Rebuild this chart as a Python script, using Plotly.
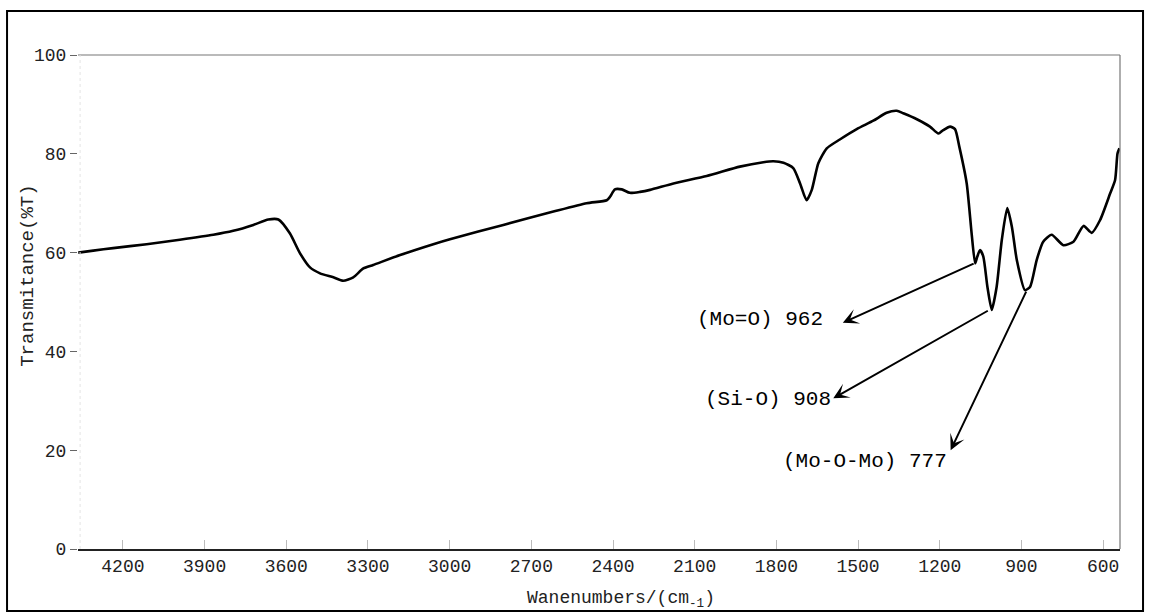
import plotly.graph_objects as go

# FTIR spectrum: wavenumber (cm-1) vs transmittance (%T)
wavenumber = [4364, 4309, 4236, 4113, 3991, 3868, 3795, 3721, 3666, 3629, 3587,
              3550, 3513, 3476, 3427, 3391, 3354, 3317, 3281, 3182, 3060, 2999,
              2803, 2619, 2497, 2423, 2411, 2393, 2368, 2338, 2301, 2264, 2178,
              2056, 1934, 1848, 1811, 1774, 1738, 1713, 1689, 1670, 1646, 1615,
              1567, 1505, 1444, 1395, 1358, 1334, 1284, 1236, 1205, 1187, 1162,
              1144, 1128, 1101, 1083, 1070, 1062, 1052, 1040, 1025, 1009, 991,
              972, 952, 935, 917, 887, 868, 844, 820, 789, 746, 709, 672, 642,
              611, 574, 556, 547, 540]
transmittance = [60.0, 60.4, 60.9, 61.7, 62.6, 63.6, 64.4, 65.6, 66.7, 66.7, 63.9,
                 59.9, 57.0, 55.8, 55.0, 54.3, 55.0, 56.8, 57.5, 59.5, 61.7, 62.7,
                 65.6, 68.3, 70.0, 70.6, 71.3, 72.8, 72.8, 72.1, 72.3, 72.7, 74.0,
                 75.5, 77.4, 78.3, 78.5, 78.2, 77.1, 74.0, 70.6, 72.7, 78.1, 81.1,
                 82.9, 85.0, 86.7, 88.3, 88.7, 88.2, 87.0, 85.5, 84.1, 84.8, 85.5,
                 85.0, 81.4, 74.0, 63.9, 57.8, 59.2, 60.5, 59.2, 53.1, 48.4, 53.1,
                 62.6, 69.0, 65.2, 58.5, 52.4, 53.1, 58.5, 62.2, 63.6, 61.5, 62.2,
                 65.4, 64.0, 66.6, 72.0, 74.7, 80.1, 81.1]

# Band assignments: label text, text position, arrow start on the curve, arrow tip
band_labels = ["(Mo=O) 962", "(Si-O) 908", "(Mo-O-Mo) 777"]
band_text_wn = [1860, 1832, 1474]
band_text_t = [46.4, 30.2, 17.7]
band_curve_wn = [1070, 1018, 880]
band_curve_t = [57.9, 48.4, 52.4]
band_tip_wn = [1556, 1591, 1160]
band_tip_t = [45.8, 30.5, 20.0]

x_ticks = [4200, 3900, 3600, 3300, 3000, 2700, 2400, 2100, 1800, 1500, 1200, 900, 600]
y_ticks = [0, 20, 40, 60, 80, 100]

FONT = "Liberation Mono, Courier New, monospace"

fig = go.Figure()
fig.add_trace(go.Scatter(
    x=wavenumber, y=transmittance, mode="lines",
    line=dict(color="black", width=2.6, shape="spline", smoothing=0.6),
    hoverinfo="skip", showlegend=False,
))

annotations = []
for lab, tx, ty, cx, cy, hx, hy in zip(band_labels, band_text_wn, band_text_t,
                                        band_curve_wn, band_curve_t,
                                        band_tip_wn, band_tip_t):
    annotations.append(dict(
        x=hx, y=hy, ax=cx, ay=cy, xref="x", yref="y", axref="x", ayref="y",
        text="", showarrow=True, arrowhead=3, arrowsize=1.3, arrowwidth=2,
        arrowcolor="black",
    ))
    annotations.append(dict(
        x=tx, y=ty, xref="x", yref="y", text=lab, showarrow=False,
        font=dict(family=FONT, size=21, color="black"),
        xanchor="center", yanchor="middle",
    ))

# axis titles
annotations.append(dict(
    x=-0.048, y=55.3, xref="paper", yref="y", text="Transmitance(%T)",
    textangle=-90, showarrow=False, xanchor="center", yanchor="middle",
    font=dict(family=FONT, size=19, color="#222"),
))
annotations.append(dict(
    x=2370, y=-0.103, xref="x", yref="paper", text="Wanenumbers/(cm<sub>-1</sub>)",
    showarrow=False, xanchor="center", yanchor="middle",
    font=dict(family=FONT, size=18, color="#222"),
))

shapes = [
    # outer frame
    dict(type="rect", xref="paper", yref="paper", x0=-0.0681, x1=1.0221,
         y0=-0.1255, y1=1.0891, line=dict(color="black", width=2)),
    # top and right plot borders
    dict(type="line", xref="paper", yref="paper", x0=0, x1=1, y0=1, y1=1,
         line=dict(color="#777", width=1.2)),
    dict(type="line", xref="paper", yref="paper", x0=1, x1=1, y0=0, y1=1,
         line=dict(color="#777", width=1.2)),
    # faint left border
    dict(type="line", xref="paper", yref="paper", x0=0.002, x1=0.002, y0=0, y1=1,
         line=dict(color="#e4e4e4", width=1, dash="dot")),
]

fig.update_layout(
    width=1150, height=612,
    margin=dict(l=78, r=30, t=55, b=63),
    paper_bgcolor="white", plot_bgcolor="white",
    font=dict(family=FONT, color="#222"),
    annotations=annotations, shapes=shapes,
    xaxis=dict(range=[4365, 538], tickvals=x_ticks, showgrid=False, zeroline=False,
               showline=True, linecolor="#222", linewidth=1.5,
               ticks="inside", ticklen=9, tickcolor="#bbb", tickwidth=1,
               tickfont=dict(family=FONT, size=18, color="#222")),
    yaxis=dict(range=[0, 100], tickvals=y_ticks, showgrid=False, zeroline=False,
               showline=False, ticks="outside", ticklen=7, tickcolor="#666",
               tickwidth=1, tickfont=dict(family=FONT, size=18, color="#222")),
)

fig.write_html("out.html")
